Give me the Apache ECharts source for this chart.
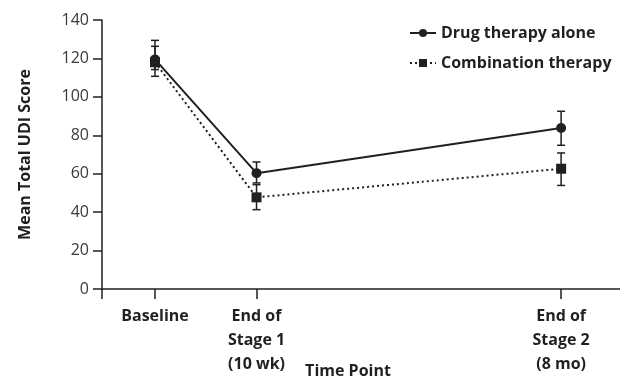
<!DOCTYPE html>
<html>
<head>
<meta charset="utf-8">
<script src="https://cdn.jsdelivr.net/npm/echarts@6/dist/echarts.min.js"></script>
<style>
html,body{margin:0;padding:0;background:#fff;}
#c{width:620px;height:378px;}
</style>
</head>
<body>
<div id="c"></div>
<script>
// Time points (weeks from baseline) and their labels
var timePoints = [0, 10, 40];
var timeLabels = ['Baseline', 'End of\nStage 1\n(10 wk)', 'End of\nStage 2\n(8 mo)'];

var seriesNames = ['Drug therapy alone', 'Combination therapy'];

// Means
var drugMean = [119.5, 60.3, 83.8];
var comboMean = [118, 47.7, 62.6];
// Error bar bounds
var drugLow = [110.7, 55.2, 74.8];
var drugHigh = [129.4, 66.1, 92.5];
var comboLow = [114.2, 41.3, 53.9];
var comboHigh = [126.3, 54.3, 70.8];

var yTicks = [0, 20, 40, 60, 80, 100, 120, 140];

var ink = '#231f20';
var FONT = '"Open Sans", "DejaVu Sans", sans-serif';

function pairs(xs, ys) { return xs.map(function (x, i) { return [x, ys[i]]; }); }
function triples(xs, lo, hi) { return xs.map(function (x, i) { return [x, lo[i], hi[i]]; }); }

function errRender(params, api) {
  var x = api.value(0);
  var p1 = api.coord([x, api.value(2)]);
  var p2 = api.coord([x, api.value(1)]);
  var hw = 4;
  var st = { stroke: ink, lineWidth: 1.5 };
  return {
    type: 'group',
    children: [
      { type: 'line', shape: { x1: p1[0], y1: p1[1], x2: p2[0], y2: p2[1] }, style: st },
      { type: 'line', shape: { x1: p1[0] - hw, y1: p1[1], x2: p1[0] + hw, y2: p1[1] }, style: st },
      { type: 'line', shape: { x1: p2[0] - hw, y1: p2[1], x2: p2[0] + hw, y2: p2[1] }, style: st }
    ]
  };
}

var xMin = -5.22, xMax = 45.8;
var labelMap = {};
timePoints.forEach(function (t, i) { labelMap[t] = timeLabels[i]; });

var chart = echarts.init(document.getElementById('c'), null, { renderer: 'canvas' });
chart.setOption({
  animation: false,
  grid: { left: 102, right: 0, top: 20, bottom: 89, containLabel: false, outerBoundsMode: 'none' },
  legend: {
    orient: 'vertical',
    left: 404,
    top: 20,
    itemWidth: 26,
    itemHeight: 10,
    itemGap: 14,
    data: seriesNames,
    textStyle: { fontFamily: FONT, fontWeight: 'bold', fontSize: 16, color: ink }
  },
  xAxis: {
    type: 'value',
    min: xMin,
    max: xMax,
    splitLine: { show: false },
    axisLine: { onZero: false, lineStyle: { color: ink, width: 1.5 } },
    axisTick: { show: true, length: 10, customValues: [xMin].concat(timePoints), lineStyle: { color: ink, width: 1.5 } },
    axisLabel: {
      customValues: timePoints,
      formatter: function (v) { return labelMap[v] || ''; },
      fontFamily: FONT, fontWeight: 'bold', fontSize: 16, color: ink,
      lineHeight: 24, margin: 15, align: 'center'
    },
    name: 'Time Point',
    nameLocation: 'middle',
    nameGap: 74,
    nameMoveOverlap: false,
    nameTextStyle: { fontFamily: FONT, fontWeight: 'bold', fontSize: 16, color: ink, padding: [0, 26, 0, 0] }
  },
  yAxis: {
    type: 'value',
    min: 0,
    max: 140,
    interval: 20,
    splitLine: { show: false },
    axisLine: { show: true, onZero: false, lineStyle: { color: ink, width: 1.5 } },
    axisTick: { show: true, length: 9, inside: false, lineStyle: { color: ink, width: 1.5 } },
    axisLabel: {
      formatter: function (v) { return yTicks.indexOf(v) >= 0 ? String(v) : ''; },
      fontFamily: FONT, fontSize: 16, color: '#3a3a3a', margin: 13
    },
    name: 'Mean Total UDI Score',
    nameLocation: 'middle',
    nameGap: 69,
    nameTextStyle: { fontFamily: FONT, fontWeight: 'bold', fontSize: 16, color: ink }
  },
  series: [
    {
      name: seriesNames[0], type: 'line', data: pairs(timePoints, drugMean),
      symbol: 'circle', symbolSize: 10, z: 5,
      lineStyle: { color: ink, width: 2, type: 'solid' },
      itemStyle: { color: ink }
    },
    {
      name: seriesNames[1], type: 'line', data: pairs(timePoints, comboMean),
      symbol: 'rect', symbolSize: 10, z: 5,
      lineStyle: { color: ink, width: 2, type: [2, 3] },
      itemStyle: { color: ink }
    },
    { type: 'custom', name: 'errDrug', renderItem: errRender, data: triples(timePoints, drugLow, drugHigh), z: 3, encode: { x: 0, y: [1, 2] } },
    { type: 'custom', name: 'errCombo', renderItem: errRender, data: triples(timePoints, comboLow, comboHigh), z: 3, encode: { x: 0, y: [1, 2] } }
  ]
});
</script>
</body>
</html>
